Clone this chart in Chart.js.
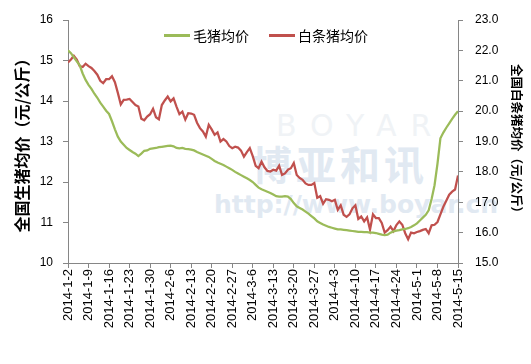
<!DOCTYPE html>
<html><head><meta charset="utf-8">
<script src="https://cdn.jsdelivr.net/npm/chart.js@4.4.0/dist/chart.umd.min.js"></script>
<style>
html,body{margin:0;padding:0;background:#fff;}
#wrap{position:relative;width:531px;height:364px;overflow:hidden;}
#c{position:absolute;left:0;top:0;z-index:2;}
.wm{position:absolute;white-space:nowrap;z-index:1;font-family:"Noto Sans CJK SC","DejaVu Sans",sans-serif;}
.lg{position:absolute;z-index:3;font-family:"Noto Sans CJK SC",sans-serif;font-size:14px;color:#000;line-height:16px;}
.sw{position:absolute;z-index:3;height:3px;}
</style></head>
<body>
<div id="wrap">
  <div class="wm" style="left:276px;top:108px;font-size:30px;color:#f0f3f6;letter-spacing:14px;font-family:'DejaVu Sans';">BOYAR</div>
  <div class="wm" style="left:252px;top:134px;font-size:40px;font-weight:bold;color:#e1e9f2;letter-spacing:4px;">博亚和讯</div>
  <div class="wm" style="left:214px;top:190px;font-size:25px;font-weight:bold;color:#e1e9f2;font-family:'DejaVu Sans';">http://www.boyar.cn</div>
  <canvas id="c" width="531" height="364"></canvas>
  <div class="sw" style="left:164px;top:34px;width:26px;background:#9BBB59;"></div>
  <div class="lg" style="left:193px;top:27px;">毛猪均价</div>
  <div class="sw" style="left:269px;top:34px;width:26px;background:#C0504D;"></div>
  <div class="lg" style="left:298px;top:27px;">白条猪均价</div>
</div>
<script>
const tickLabels = ['2014-1-2','2014-1-9','2014-1-16','2014-1-23','2014-1-30','2014-2-6','2014-2-13','2014-2-20','2014-2-27','2014-3-6','2014-3-13','2014-3-20','2014-3-27','2014-4-3','2014-4-10','2014-4-17','2014-4-24','2014-5-1','2014-5-8','2014-5-15'];
const seriesNames = ['毛猪均价','白条猪均价'];
// daily values, 2014-1-2 .. 2014-5-15
const hogPrice = [
15.25,15.18,15.08,14.98,14.88,14.68,14.52,14.40,14.30,14.18,
14.08,13.96,13.86,13.76,13.68,13.50,13.30,13.12,13.00,12.92,
12.84,12.79,12.74,12.70,12.64,12.70,12.77,12.78,12.82,12.83,
12.84,12.86,12.87,12.88,12.89,12.90,12.88,12.84,12.83,12.84,
12.82,12.81,12.80,12.78,12.74,12.71,12.68,12.65,12.62,12.57,
12.52,12.48,12.45,12.42,12.38,12.34,12.30,12.25,12.21,12.17,
12.13,12.09,12.05,12.00,11.93,11.86,11.82,11.79,11.76,11.73,
11.69,11.65,11.64,11.64,11.65,11.64,11.58,11.48,11.40,11.36,
11.32,11.27,11.22,11.16,11.10,11.03,10.99,10.95,10.92,10.89,
10.87,10.85,10.83,10.83,10.82,10.81,10.80,10.79,10.78,10.77,
10.77,10.76,10.76,10.75,10.75,10.74,10.72,10.70,10.69,10.70,
10.75,10.78,10.80,10.81,10.83,10.84,10.86,10.89,10.93,10.98,
11.05,11.12,11.19,11.30,11.58,11.92,12.45,13.08,13.22,13.34,
13.45,13.56,13.66,13.75];
const carcassPrice = [
21.60,21.70,21.82,21.70,21.48,21.45,21.56,21.48,21.42,21.32,
21.20,21.00,20.92,21.05,21.05,21.15,20.95,20.60,20.22,20.37,
20.38,20.40,20.30,20.20,20.15,19.75,19.70,19.82,19.90,20.08,
19.80,19.73,20.20,20.35,20.48,20.32,20.42,20.15,19.90,19.98,
19.72,19.93,19.92,19.88,19.62,19.44,19.33,19.16,19.55,19.40,
19.22,19.30,19.00,19.08,19.00,18.85,18.78,18.83,18.80,18.70,
18.50,18.65,18.78,18.52,18.20,18.12,18.34,18.15,18.03,18.01,
18.07,18.04,18.20,17.90,17.95,18.07,18.12,18.29,17.90,17.80,
17.74,17.62,17.57,17.57,17.63,17.15,17.20,16.95,17.10,17.08,
17.03,17.08,16.75,16.90,16.59,16.52,16.60,16.80,16.90,16.45,
16.53,16.37,16.50,16.10,16.60,16.48,16.48,16.32,16.00,16.08,
16.20,16.05,16.25,16.37,16.26,15.98,15.78,16.00,15.98,16.02,
16.05,16.09,16.12,15.98,16.24,16.26,16.35,16.60,16.85,17.05,
17.25,17.35,17.42,17.88];

const tickFont = {family:'"Liberation Sans", Arial, sans-serif', size:12};
const xTickFont = {family:'"Liberation Sans", Arial, sans-serif', size:13};
const axisGrid = {drawOnChartArea:false, color:'#868686', tickLength:5, lineWidth:1};
const axisBorder = {display:true, color:'#868686', width:1};

new Chart(document.getElementById('c'), {
  type:'line',
  data:{datasets:[
    {label:seriesNames[0], data:hogPrice.map((v,i)=>({x:i,y:v})), yAxisID:'y', borderColor:'#9BBB59', borderWidth:2.25, pointRadius:0, tension:0, fill:false},
    {label:seriesNames[1], data:carcassPrice.map((v,i)=>({x:i,y:v})), yAxisID:'y1', borderColor:'#C0504D', borderWidth:2.25, pointRadius:0, tension:0, fill:false}
  ]},
  options:{
    responsive:false, animation:false, devicePixelRatio:1,
    layout:{padding:{top:20,left:0,right:0,bottom:0}},
    plugins:{legend:{display:false}, tooltip:{enabled:false}},
    scales:{
      x:{type:'linear', position:'bottom', min:0, max:hogPrice.length-1,
        ticks:{stepSize:7, autoSkip:false, minRotation:90, maxRotation:90, padding:1, color:'#000', font:xTickFont,
          callback:(v)=> (v%7===0 ? (tickLabels[v/7]||'') : '')},
        grid:axisGrid, border:axisBorder,
        afterFit:(s)=>{s.height=101;}},
      y:{position:'left', min:10, max:16,
        ticks:{stepSize:1, padding:10, color:'#000', font:tickFont},
        grid:axisGrid, border:axisBorder,
        title:{display:true, text:'全国生猪均价（元/公斤）', color:'#000', font:{family:'"Noto Sans CJK SC"', size:16, weight:'bold'}, padding:{top:12,bottom:0}},
        afterFit:(s)=>{s.width=68;}},
      y1:{position:'right', min:15, max:23,
        ticks:{stepSize:1, padding:12, color:'#000', font:tickFont, callback:(v)=>Number(v).toFixed(1)},
        grid:axisGrid, border:axisBorder,
        title:{display:true, text:'全国白条猪均价（元/公斤）', color:'#000', font:{family:'"Noto Sans CJK SC"', size:12.5, weight:'bold'}, padding:{top:7,bottom:0}},
        afterFit:(s)=>{s.width=73;}}
    }
  }
});
</script>
</body></html>
